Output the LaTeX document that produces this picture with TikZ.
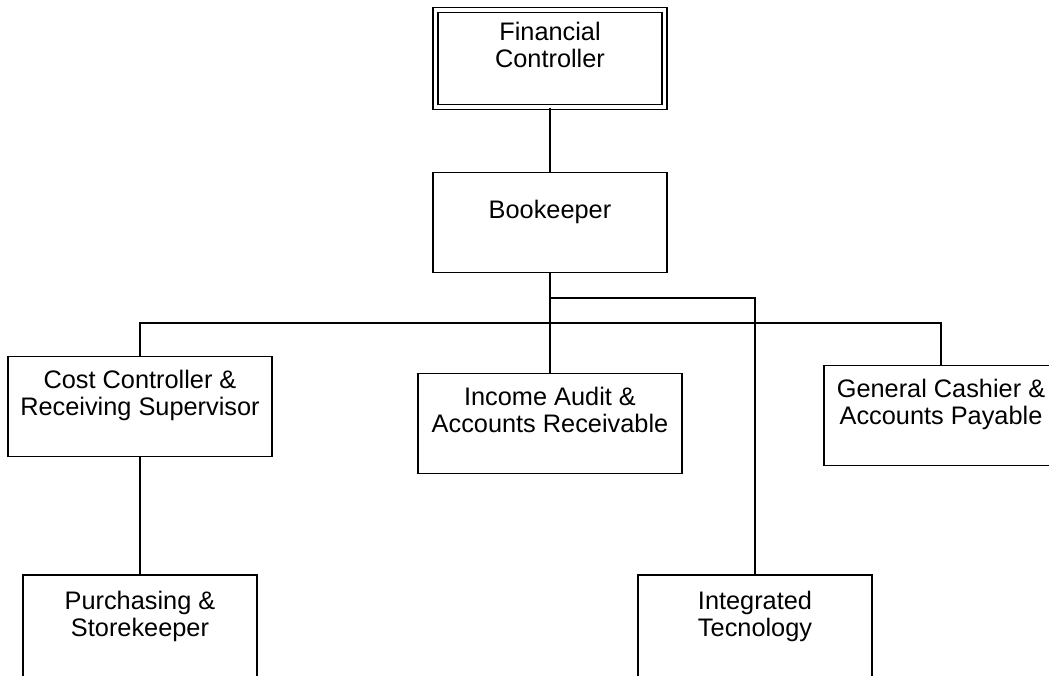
\documentclass[tikz,border=0pt]{standalone}
\usepackage{fontspec}
\setmainfont{Liberation Sans}
\usepackage{tikz}
\usetikzlibrary{positioning}

\begin{document}
\begin{tikzpicture}[x=0.75pt,y=-0.75pt,line width=1.2pt,
  font=\fontsize{19}{20.25}\selectfont,
  post/.style={draw=black,align=center,inner sep=0pt,
    minimum width=#1,minimum height=75pt},
  post/.default=175.5pt]
  % Frame
  \clip (0,0) rectangle (1049,675);

  % Posts
  \node[post=171.75pt,minimum height=72.75pt,double,double distance=2.6pt]
    (fc) at (550,58.5) {Financial\\Controller\\~};
  \node[post] (bk) at (550,222.5) {Bookeeper\\~};
  \node[post=198pt] (cc) at (140,406.5)
    {Cost Controller \&\\Receiving Supervisor\\~};
  \node[post=198pt] (ia) at (550,423.5)
    {Income Audit \&\\Accounts Receivable\\~};
  \node[post] (gc) at (941,415.5) {General Cashier \&\\Accounts Payable\\~};
  \node[post,minimum height=78pt] (ps) at (140,627)
    {Purchasing \&\\Storekeeper\\~};
  \node[post,minimum height=78pt] (it) at (755,627)
    {Integrated\\Tecnology\\~};

  % Lines
  \coordinate (bus) at (550,323);
  \coordinate (jog) at (550,298);
  \draw (fc) -- (bk);
  \draw (bk) -- (ia);
  \draw (cc.north) |- (bus) -| (gc.north);
  \draw (jog) -| (it.north);
  \draw (cc) -- (ps);
\end{tikzpicture}
\end{document}
